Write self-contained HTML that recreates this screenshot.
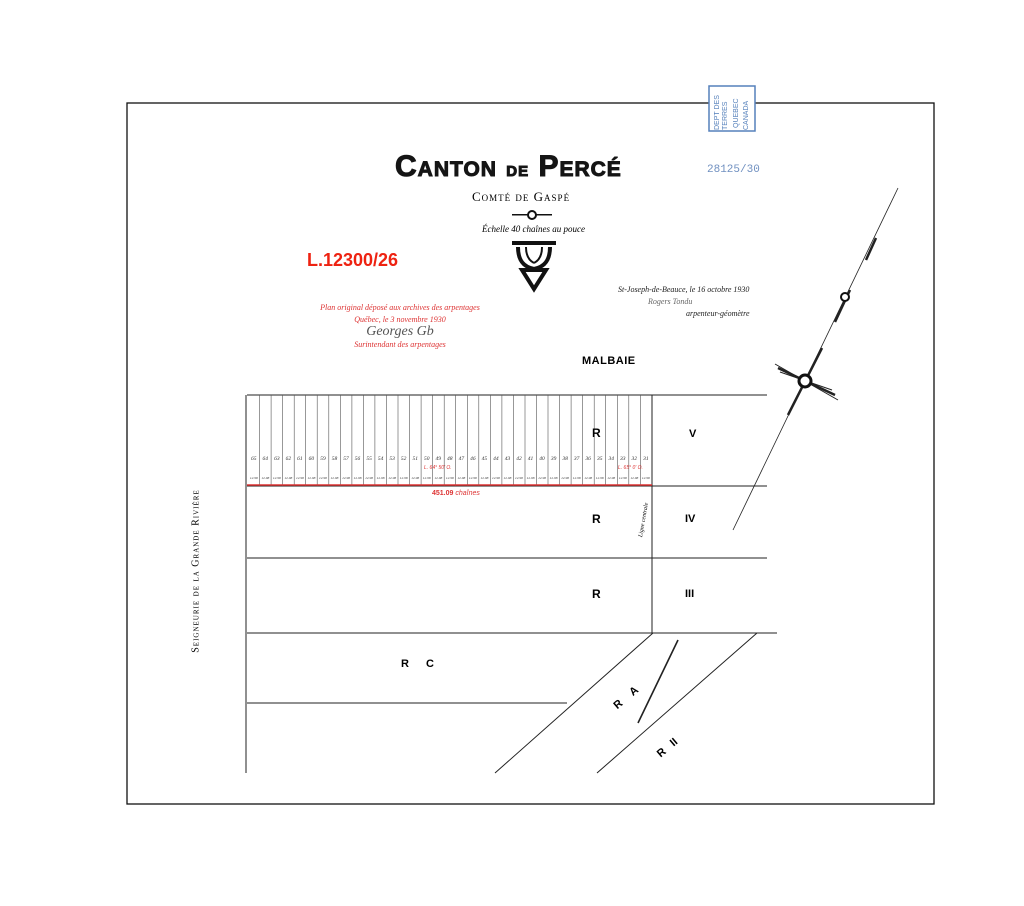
<!DOCTYPE html>
<html><head><meta charset="utf-8"><style>
body{margin:0;background:#fff;}
#w{position:relative;width:1024px;height:906px;overflow:hidden;font-family:"Liberation Sans",sans-serif;}
.row{position:absolute;left:248px;display:flex;font-family:"Liberation Serif",serif;font-style:italic;color:#333;}
.row span{width:11.54px;text-align:center;display:block;}
</style></head><body><div id="w">
<svg width="1024" height="906" style="position:absolute;left:0;top:0">
<rect x="127" y="103" width="807" height="701" fill="none" stroke="#111" stroke-width="1.3"/>
<g stroke="#222" stroke-width="1" fill="none">
<path d="M247 395H767M246 395V773M247 486H767M247 558H767M247 633H777M247 703H567M652 395V633M653 633L495 773M757 633L597 773"/>
<path stroke-width="0.6" stroke="#555" d="M259.5 395V486M271.1 395V486M282.6 395V486M294.2 395V486M305.7 395V486M317.2 395V486M328.8 395V486M340.3 395V486M351.9 395V486M363.4 395V486M374.9 395V486M386.5 395V486M398 395V486M409.6 395V486M421.1 395V486M432.6 395V486M444.2 395V486M455.7 395V486M467.3 395V486M478.8 395V486M490.3 395V486M501.9 395V486M513.4 395V486M525 395V486M536.5 395V486M548 395V486M559.6 395V486M571.1 395V486M582.7 395V486M594.2 395V486M605.7 395V486M617.3 395V486M628.8 395V486M640.4 395V486"/>
<path stroke-width="1.6" d="M678 640L638 723"/>
<path stroke-width="0.8" d="M898 188L733 530"/>
<path stroke-width="2.5" d="M876 238L866 260M850 290L835 322M822 348L788 415"/>
<path stroke-width="2.5" d="M778 368L835 395"/>
<path stroke-width="1" d="M775 364L838 400M780 372L832 390"/>
<!-- logo -->
<path stroke="#111" stroke-width="4" d="M518 247c0 14 6 20 16 22M550 247c0 14-6 20-16 22"/>
<path stroke="#111" stroke-width="2" d="M526 247c0 10 4 14 8 16M542 247c0 10-4 14-8 16"/>
<path stroke="#111" stroke-width="4" d="M522 270H546L534 289Z" stroke-linejoin="miter"/>
</g>
<rect x="512" y="241" width="44" height="4" fill="#111"/>
<line x1="247" y1="485" x2="652" y2="485" stroke="#d33" stroke-width="1.4"/>
<circle cx="845" cy="297" r="4" fill="#fff" stroke="#111" stroke-width="2"/>
<circle cx="805" cy="381" r="6" fill="#fff" stroke="#111" stroke-width="3"/>
<rect x="709" y="86" width="46" height="45" fill="#fff" stroke="#5580bb" stroke-width="1.5"/>
<g fill="#5580bb" font-size="7" font-family="Liberation Sans">
<text transform="translate(719,130) rotate(-90)">DEPT DES</text>
<text transform="translate(727,130) rotate(-90)">TERRES</text>
<text transform="translate(738,128) rotate(-90)">QUEBEC</text>
<text transform="translate(748,130) rotate(-90)">CANADA</text>
</g>
<rect x="512" y="214" width="40" height="1.5" fill="#111"/>
<circle cx="532" cy="215" r="4" fill="#fff" stroke="#111" stroke-width="2"/>
</svg>
<div style="position:absolute;left:395px;top:150px;font-weight:bold;font-size:30px;letter-spacing:1px;color:#151515;font-variant:small-caps;-webkit-text-stroke:1px #151515">Canton <span style="font-size:22px">de</span> Percé</div>
<div style="position:absolute;left:472px;top:189px;font-family:'Liberation Serif',serif;font-size:13px;font-variant:small-caps;letter-spacing:1px">Comté de Gaspé</div>
<div style="position:absolute;left:482px;top:224px;font-family:'Liberation Serif',serif;font-style:italic;font-size:9px">Échelle 40 chaînes au pouce</div>
<div style="position:absolute;left:707px;top:164px;font-family:'Liberation Mono',monospace;font-size:11px;color:#7090c0">28125/30</div>
<div style="position:absolute;left:307px;top:250px;font-weight:bold;font-size:18px;color:#e21">L.12300/26</div>
<div style="position:absolute;left:320px;top:302px;font-family:'Liberation Serif',serif;font-style:italic;font-size:8px;color:#d33;line-height:12px;text-align:center;width:160px">Plan original déposé aux archives des arpentages<br>Québec, le 3 novembre 1930<br><span style="font-size:14px;color:#555">Georges Gb</span><br>Surintendant des arpentages</div>
<div style="position:absolute;left:618px;top:284px;font-family:'Liberation Serif',serif;font-style:italic;font-size:8px;line-height:12px;color:#222">St-Joseph-de-Beauce, le 16 octobre 1930<br><span style="color:#666;margin-left:30px">Rogers Tondu</span><br><span style="margin-left:68px">arpenteur-géomètre</span></div>
<div style="position:absolute;left:582px;top:355px;font-weight:bold;font-size:11px;letter-spacing:0.5px">MALBAIE</div>
<div class="row" style="top:456px;font-size:5.5px"><span>65</span><span>64</span><span>63</span><span>62</span><span>61</span><span>60</span><span>59</span><span>58</span><span>57</span><span>56</span><span>55</span><span>54</span><span>53</span><span>52</span><span>51</span><span>50</span><span>49</span><span>48</span><span>47</span><span>46</span><span>45</span><span>44</span><span>43</span><span>42</span><span>41</span><span>40</span><span>39</span><span>38</span><span>37</span><span>36</span><span>35</span><span>34</span><span>33</span><span>32</span><span>31</span></div>
<div class="row" style="top:476px;font-size:3.5px"><span>12.98</span><span>12.98</span><span>12.98</span><span>12.98</span><span>12.98</span><span>12.98</span><span>12.98</span><span>12.98</span><span>12.98</span><span>12.98</span><span>12.98</span><span>12.98</span><span>12.98</span><span>12.98</span><span>12.98</span><span>12.98</span><span>12.98</span><span>12.98</span><span>12.98</span><span>12.98</span><span>12.98</span><span>12.98</span><span>12.98</span><span>12.98</span><span>12.98</span><span>12.98</span><span>12.98</span><span>12.98</span><span>12.98</span><span>12.98</span><span>12.98</span><span>12.98</span><span>12.98</span><span>12.98</span><span>12.98</span></div>
<div style="position:absolute;left:432px;top:490px;font-size:7px;font-weight:bold;color:#d33">451.09 <i style="font-weight:normal">chaînes</i></div>
<div style="position:absolute;left:424px;top:465px;font-size:5px;color:#d33;font-style:italic">L. 64° 50' O.</div>
<div style="position:absolute;left:618px;top:465px;font-size:5px;color:#d33;font-style:italic">L. 65° 0' O.</div>
<div style="position:absolute;left:592px;top:426px;font-weight:bold;font-size:12px">R</div>
<div style="position:absolute;left:592px;top:512px;font-weight:bold;font-size:12px">R</div>
<div style="position:absolute;left:592px;top:587px;font-weight:bold;font-size:12px">R</div>
<div style="position:absolute;left:689px;top:428px;font-weight:bold;font-size:11px">V</div>
<div style="position:absolute;left:685px;top:513px;font-weight:bold;font-size:11px">IV</div>
<div style="position:absolute;left:685px;top:588px;font-weight:bold;font-size:11px">III</div>
<div style="position:absolute;left:401px;top:658px;font-weight:bold;font-size:11px;word-spacing:14px">R C</div>
<div style="position:absolute;left:612px;top:692px;font-weight:bold;font-size:11px;word-spacing:10px;transform:rotate(-40deg)">R A</div>
<div style="position:absolute;left:656px;top:742px;font-weight:bold;font-size:11px;word-spacing:6px;transform:rotate(-40deg)">R II</div>
<div style="position:absolute;left:196px;top:571px;width:0;height:0"><div style="position:absolute;transform:translate(-50%,-50%) rotate(-90deg);white-space:nowrap;font-family:'Liberation Serif',serif;font-size:10px;font-variant:small-caps;letter-spacing:1px">Seigneurie de la Grande Rivière</div></div>
<div style="position:absolute;left:644px;top:520px;width:0;height:0"><div style="position:absolute;transform:translate(-50%,-50%) rotate(-80deg);white-space:nowrap;font-family:'Liberation Serif',serif;font-style:italic;font-size:6px">Ligne centrale</div></div>
</div></body></html>
